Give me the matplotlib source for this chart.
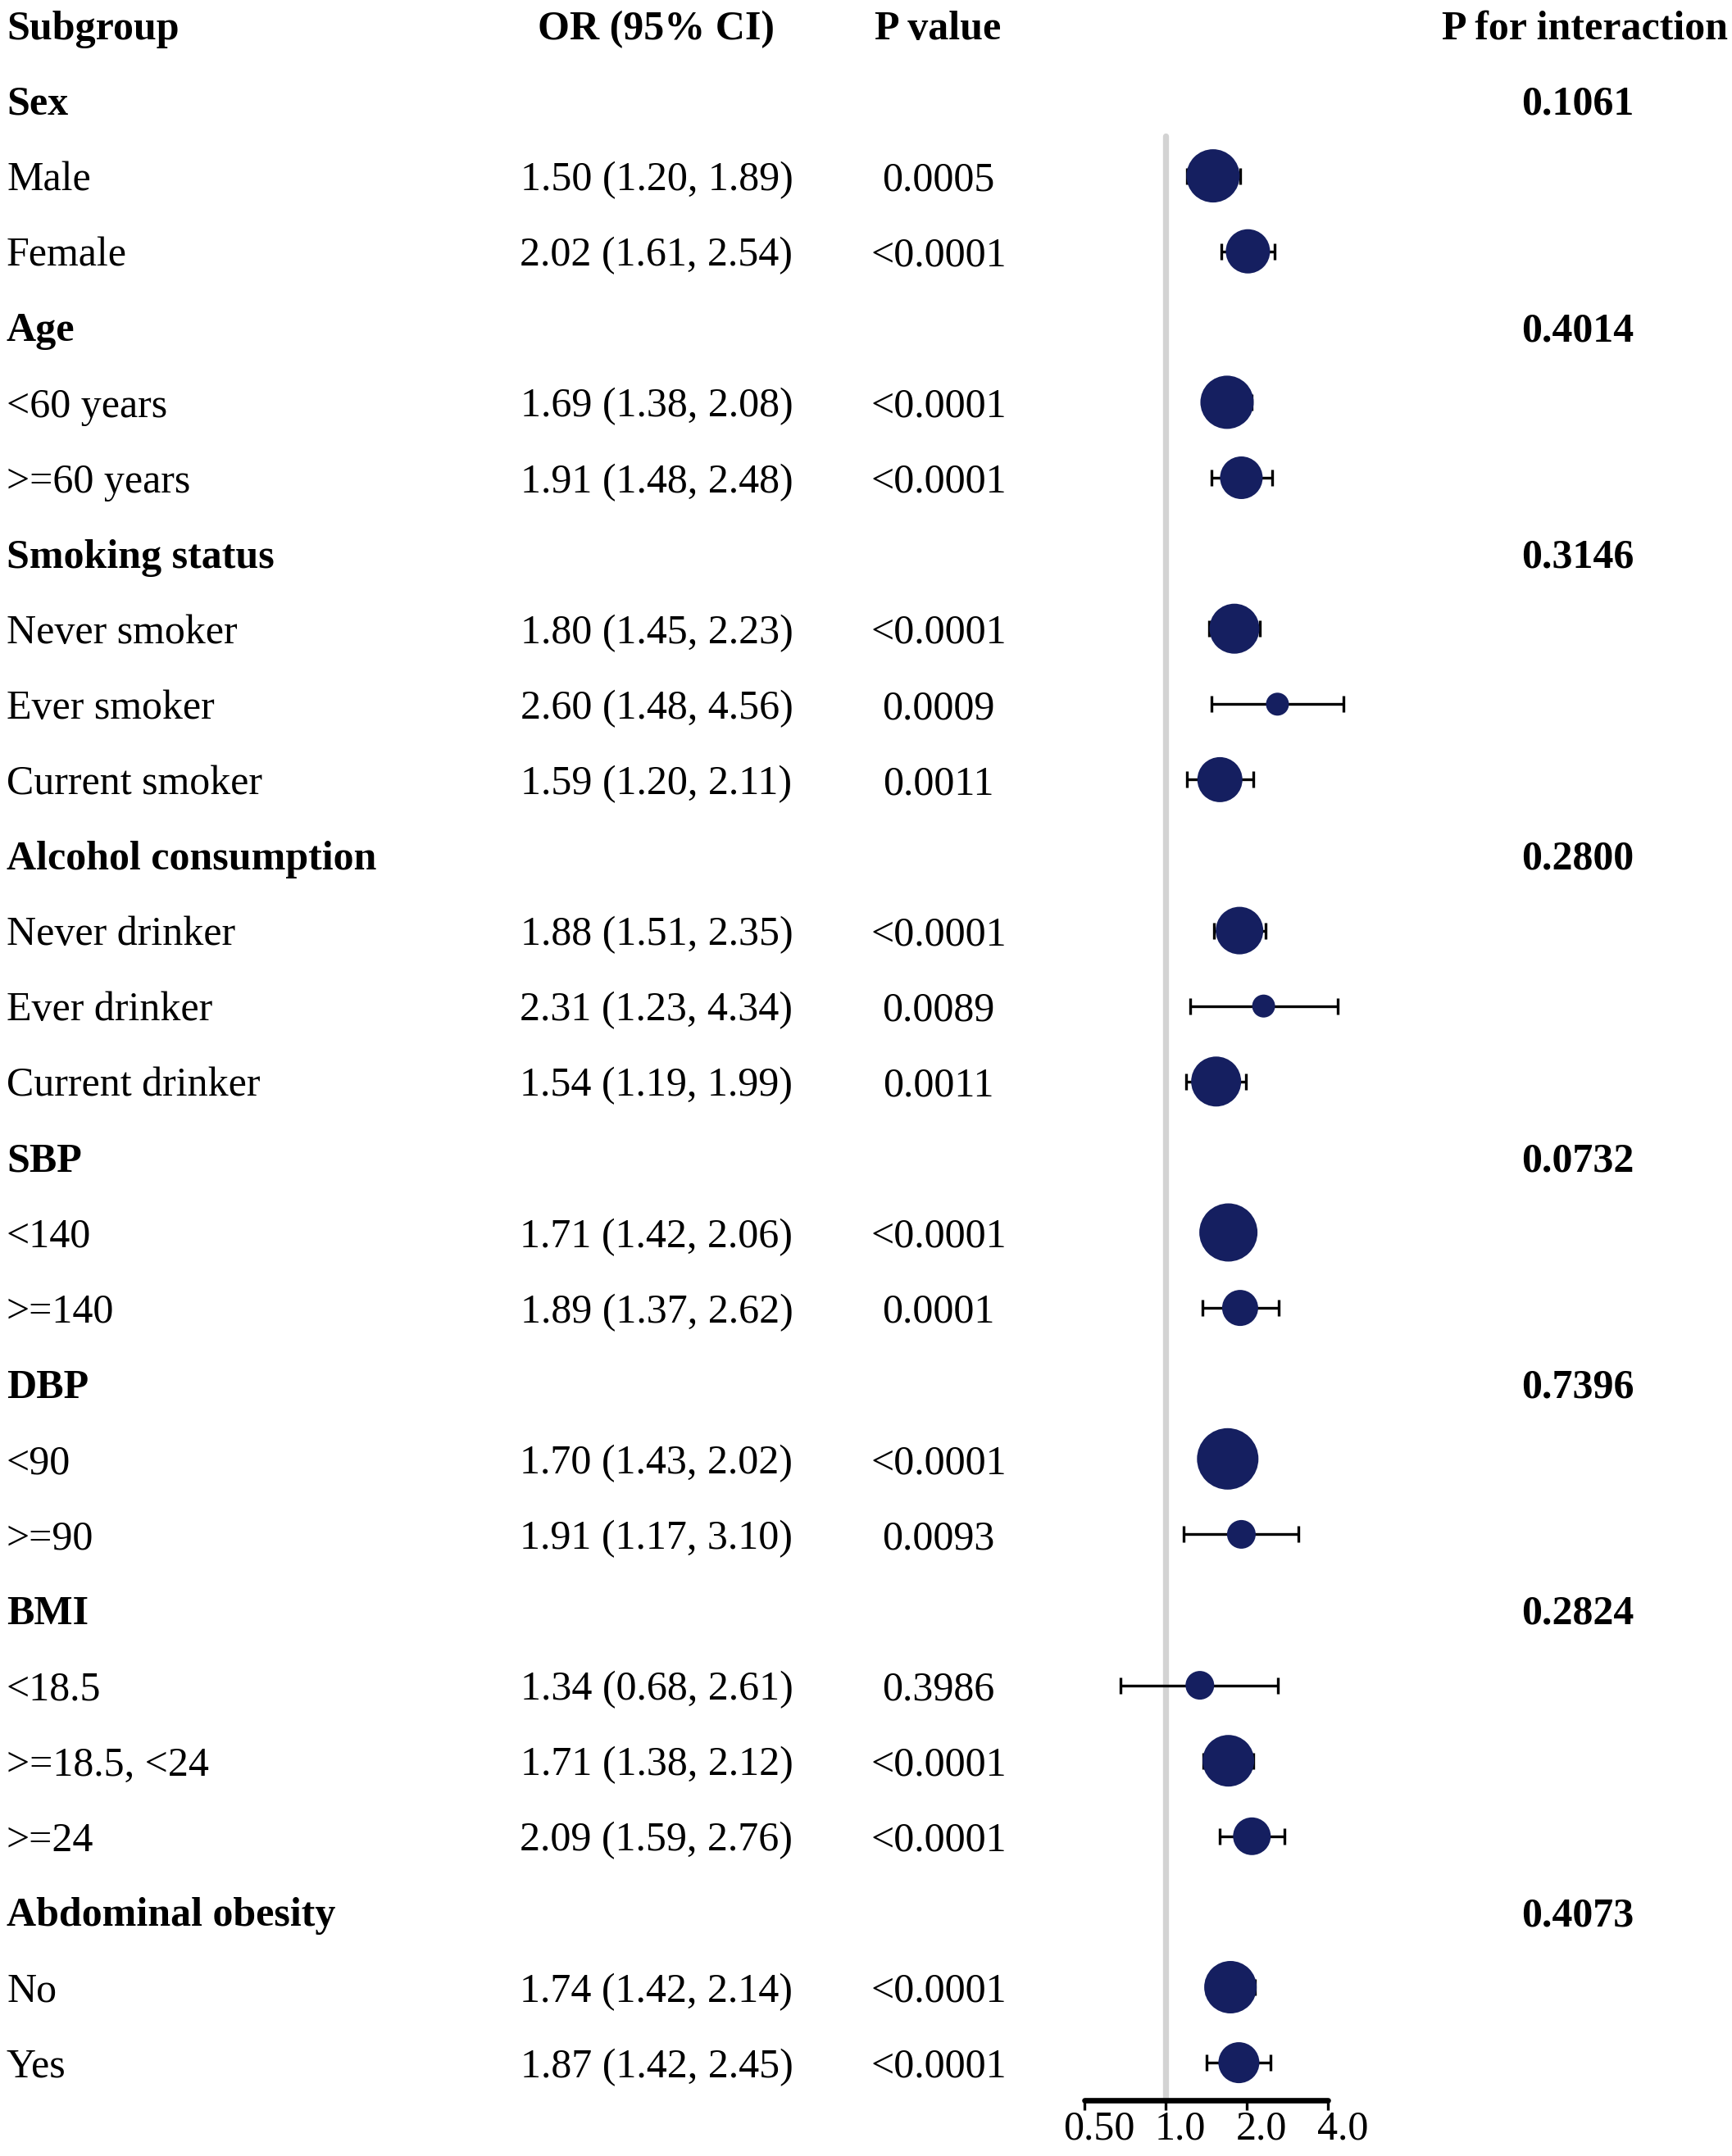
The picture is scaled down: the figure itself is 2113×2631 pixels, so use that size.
import numpy as np
import matplotlib.pyplot as plt
from matplotlib.transforms import ScaledTranslation

plt.rcParams['font.family'] = ['Liberation Serif', 'DejaVu Serif']

# rows of the table (group headers in bold)
labels = ["Sex", "Male", "Female",
          "Age", "<60 years", ">=60 years",
          "Smoking status", "Never smoker", "Ever smoker", "Current smoker",
          "Alcohol consumption", "Never drinker", "Ever drinker", "Current drinker",
          "SBP", "<140", ">=140",
          "DBP", "<90", ">=90",
          "BMI", "<18.5", ">=18.5, <24", ">=24",
          "Abdominal obesity", "No", "Yes"]
is_group = [1, 0, 0, 1, 0, 0, 1, 0, 0, 0, 1, 0, 0, 0, 1, 0, 0, 1, 0, 0, 1, 0, 0, 0, 1, 0, 0]

# subgroup estimates
or_vals = [1.50, 2.02, 1.69, 1.91, 1.80, 2.60, 1.59, 1.88, 2.31, 1.54,
           1.71, 1.89, 1.70, 1.91, 1.34, 1.71, 2.09, 1.74, 1.87]
ci_low = [1.20, 1.61, 1.38, 1.48, 1.45, 1.48, 1.20, 1.51, 1.23, 1.19,
          1.42, 1.37, 1.43, 1.17, 0.68, 1.38, 1.59, 1.42, 1.42]
ci_high = [1.89, 2.54, 2.08, 2.48, 2.23, 4.56, 2.11, 2.35, 4.34, 1.99,
           2.06, 2.62, 2.02, 3.10, 2.61, 2.12, 2.76, 2.14, 2.45]
p_vals = ["0.0005", "<0.0001", "<0.0001", "<0.0001", "<0.0001", "0.0009", "0.0011",
          "<0.0001", "0.0089", "0.0011", "<0.0001", "0.0001", "<0.0001", "0.0093",
          "0.3986", "<0.0001", "<0.0001", "<0.0001", "<0.0001"]
# relative weight (marker diameter in px)
weights = [65, 54, 65, 52, 61, 28, 55, 58, 28, 61, 71, 44, 75, 35, 35, 63, 46, 64, 50]
p_inter = ["0.1061", "0.4014", "0.3146", "0.2800", "0.0732", "0.7396", "0.2824", "0.4073"]
ticks = [0.5, 1.0, 2.0, 4.0]
tick_labels = ["0.50", "1.0", "2.0", "4.0"]

W, H = 2113, 2631
row0, step = 122.5, 92.1        # pixel position of first row and row spacing
ylim = ((H - row0) / step, -row0 / step)
fs = 36
navy = '#151F60'

fig = plt.figure(figsize=(W / 100, H / 100), dpi=100)
ax = fig.add_axes([0, 0, 1, 1])
ax.set_xlim(0, W)
ax.set_ylim(*ylim)
ax.axis('off')

# header
ax.text(8, -1, "Subgroup", fontsize=fs, fontweight='bold', va='center_baseline')
ax.text(801, -1, "OR (95% CI)", fontsize=fs, fontweight='bold', ha='center', va='center_baseline')
ax.text(1144, -1, "P value", fontsize=fs, fontweight='bold', ha='center', va='center_baseline')
ax.text(2108, -1, "P for interaction", fontsize=fs, fontweight='bold', ha='right', va='center_baseline')

sub_rows = []
g = 0
k = 0
for i, lab in enumerate(labels):
    if is_group[i]:
        ax.text(8, i, lab, fontsize=fs, fontweight='bold', va='center_baseline')
        ax.text(1925, i, p_inter[g], fontsize=fs, fontweight='bold', ha='center', va='center_baseline')
        g += 1
    else:
        ax.text(8, i, lab, fontsize=fs, va='center_baseline')
        ax.text(801, i, f"{or_vals[k]:.2f} ({ci_low[k]:.2f}, {ci_high[k]:.2f})",
                fontsize=fs, ha='center', va='center_baseline')
        ax.text(1145, i, p_vals[k], fontsize=fs, ha='center', va='center_baseline')
        sub_rows.append(i)
        k += 1

# forest panel, log2 scale: 1.0 at x=1422 px, 99 px per doubling
x1, x2 = 1200, 1800
fx = fig.add_axes([x1 / W, 0, (x2 - x1) / W, 1])
fx.patch.set_visible(False)
fx.set_xscale('log')
fx.set_xlim(2 ** ((x1 - 1422) / 99), 2 ** ((x2 - 1422) / 99))
fx.set_ylim(*ylim)

axis_row = (2563 - row0) / step
fx.vlines(1.0, (166 - row0) / step, axis_row, color='#D3D3D3', lw=5.3,
          capstyle='round', zorder=1)

or_a = np.array(or_vals)
fx.errorbar(or_a, sub_rows, xerr=[or_a - np.array(ci_low), np.array(ci_high) - or_a],
            fmt='none', ecolor='black', elinewidth=2.4, capsize=7.5, capthick=2.4,
            zorder=2, clip_on=False)
fx.scatter(or_a, sub_rows, s=(np.array(weights) * 0.72) ** 2, color=navy,
           edgecolors='none', zorder=3, clip_on=False)

for s in ['top', 'left', 'right']:
    fx.spines[s].set_visible(False)
fx.spines['bottom'].set_position(('data', axis_row))
fx.spines['bottom'].set_bounds(0.5, 4.0)
fx.spines['bottom'].set_linewidth(4.8)
fx.spines['bottom'].set_capstyle('round')
fx.set_yticks([])
fx.set_xticks(ticks)
fx.set_xticklabels(tick_labels)
fx.minorticks_off()
fx.tick_params(axis='x', direction='out', length=8.6, width=2.4, pad=0,
               labelsize=fs, color='black')
off = ScaledTranslation(13 / 72, 0, fig.dpi_scale_trans)
for lbl in fx.get_xticklabels():
    lbl.set_transform(lbl.get_transform() + off)

fig.savefig('out.png', dpi=100)
